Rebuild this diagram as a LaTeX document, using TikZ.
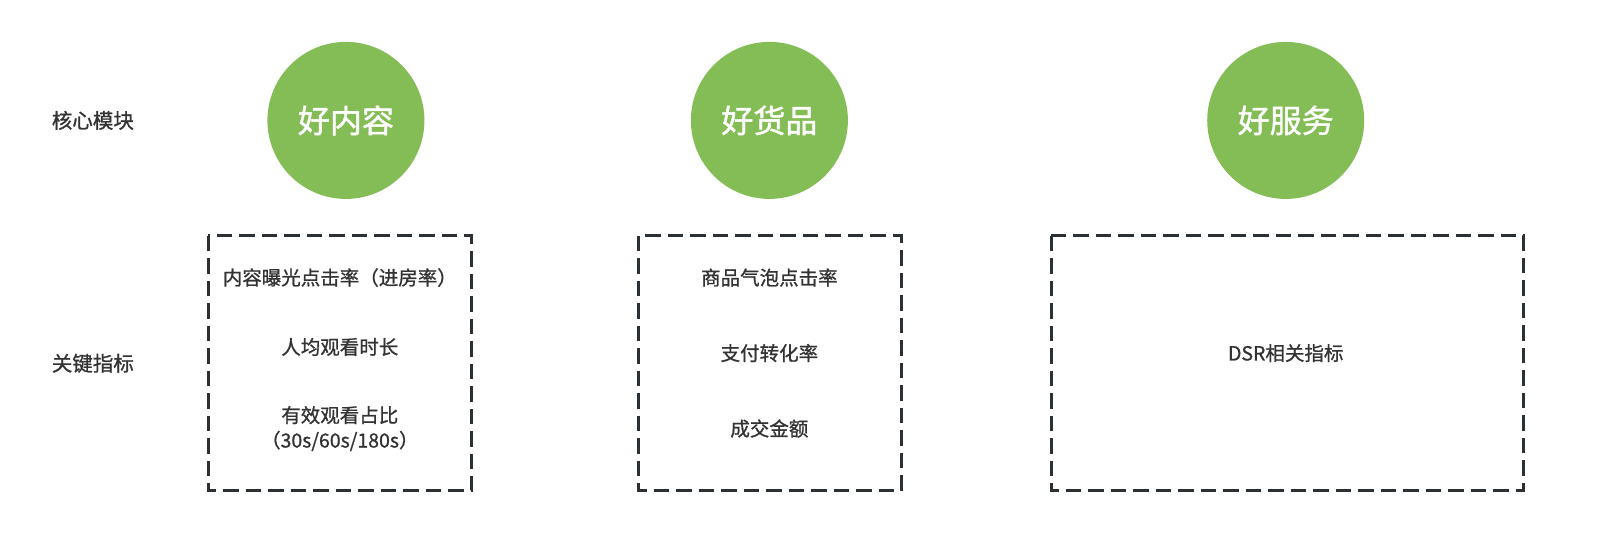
\documentclass[tikz,border=0pt]{standalone}
\usepackage{fontspec}
\setmainfont{Noto Sans CJK SC}[FakeBold=1.0]
\definecolor{leaf}{HTML}{84BD55}
\definecolor{ink}{HTML}{333333}
\definecolor{dash}{HTML}{2B3035}
\begin{document}
\begin{tikzpicture}[x=1.0204pt,y=-1.0204pt,
  bubble/.style={circle,fill=leaf,minimum size=157pt,inner sep=0pt,text=white,font=\fontsize{32}{36}\selectfont\addfontfeature{FakeBold=1.4}},
  frame/.style={draw=dash,line width=3pt,dash pattern=on 15.5pt off 7pt},
  rowlabel/.style={text=ink,font=\fontsize{20.5}{24}\selectfont},
  metric/.style={text=ink,font=\fontsize{19.5}{25}\selectfont,align=center}]
\useasboundingbox (0,0) rectangle (1568,544.9);
\node[rowlabel] (l1) at (91,118) {核心模块};
\node[rowlabel] (l2) at (91,356) {关键指标};
\node[bubble] (c1) at (339,118) {好内容};
\node[bubble] (c2) at (754,118) {好货品};
\node[bubble] (c3) at (1260,118) {好服务};
\draw[frame] (204,231) rectangle (462,481);
\draw[frame] (626,231) rectangle (883,481);
\draw[frame] (1030,231) rectangle (1493,481);
\node[metric] (m11) at (333,272) {内容曝光点击率（进房率）};
\node[metric] (m12) at (333,340) {人均观看时长};
\node[metric] (m13) at (333,420) {有效观看占比\\（30s/60s/180s）};
\node[metric] (m21) at (754,272) {商品气泡点击率};
\node[metric] (m22) at (754,346) {支付转化率};
\node[metric] (m23) at (754,420) {成交金额};
\node[metric] (m31) at (1260,346) {DSR相关指标};
\end{tikzpicture}
\end{document}
